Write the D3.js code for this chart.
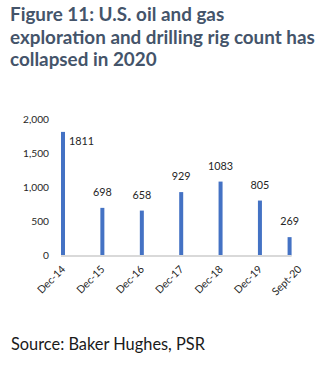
<!DOCTYPE html>
<html><head><meta charset="utf-8">
<script src="https://cdn.jsdelivr.net/npm/d3@7"></script>
<style>
html,body{margin:0;padding:0;background:#fff;}
svg{display:block;font-family:Lato,"Open Sans",sans-serif;}
</style></head>
<body>
<svg id="c" width="331" height="372"></svg>
<script>
const titleLines = ["Figure 11: U.S. oil and gas", "exploration and drilling rig count has", "collapsed in 2020"];
const sourceText = "Source: Baker Hughes, PSR";
const categories = ["Dec-14","Dec-15","Dec-16","Dec-17","Dec-18","Dec-19","Sept-20"];
const dates = [new Date(2014,11,1), new Date(2015,11,1), new Date(2016,11,1), new Date(2017,11,1), new Date(2018,11,1), new Date(2019,11,1), new Date(2020,8,1)];
const rigCount = [1811, 698, 658, 929, 1083, 805, 269];
const tickDates = [new Date(2014,11,1), new Date(2015,11,1), new Date(2016,11,1), new Date(2017,11,1), new Date(2018,11,1), new Date(2019,11,1), new Date(2020,11,1)];
const yTicks = [0, 500, 1000, 1500, 2000];

const svg = d3.select("#c");
const barW = 4;

// Title
const tg = svg.append("g");
const tSizes = [21, 43.5, 66];
titleLines.forEach((t,i)=>{
  tg.append("text").attr("x",10).attr("y",tSizes[i]).text(t)
    .attr("font-weight","bold").attr("font-size",17).attr("fill","#44546a");
});
// fit font size so line 2 width ~305
const w2 = tg.selectAll("text").nodes()[1].getComputedTextLength();
const fs = 17*305/w2;
tg.selectAll("text").attr("font-size",fs);

const x = d3.scaleTime().domain([new Date(2014,11,1), new Date(2020,11,1)]).range([61, 61+6*39.4]);
const y = d3.scaleLinear().domain([0,2000]).range([255.5,119]);

// y axis labels
const yAxis = d3.axisLeft(y).tickValues(yTicks).tickFormat(d3.format(",")).tickSize(0).tickPadding(0);
const ya = svg.append("g").attr("transform","translate(49,0)").call(yAxis);
ya.select(".domain").remove();
ya.selectAll("text").attr("font-family","Lato").attr("font-size",10.2).attr("fill","#262626");

// bars
svg.append("g").selectAll("rect").data(rigCount).join("rect")
  .attr("x",(d,i)=>x(dates[i])).attr("width",barW)
  .attr("y",d=>y(d)).attr("height",d=>y(0)-y(d))
  .attr("fill","#4472c4");

// x axis line
svg.append("line").attr("x1",x(dates[0])).attr("x2",x(dates[dates.length-1])+barW)
  .attr("y1",y(0)+0.5).attr("y2",y(0)+0.5).attr("stroke","#d9d9d9").attr("stroke-width",2);

// x tick labels
svg.append("g").selectAll("text").data(categories).join("text")
  .attr("transform",(d,i)=>`translate(${x(tickDates[i])+5},270) rotate(-45)`)
  .attr("text-anchor","end").attr("font-size",10.5).attr("fill","#262626")
  .text(d=>d);

// data labels
svg.append("g").selectAll("text").data(rigCount).join("text")
  .each(function(d,i){
    const sel = d3.select(this);
    const cx = x(dates[i]) + barW/2;
    if (y(d) - 12 < y(2000) + 10) {
      sel.attr("x", cx + 6).attr("y", y(d) + 13).attr("text-anchor","start");
    } else {
      sel.attr("x", cx).attr("y", y(d) - 12).attr("text-anchor","middle");
    }
  })
  .attr("font-size",10.8).attr("fill","#262626").text(d=>d);

// source
const src = svg.append("text").attr("x",11).attr("y",350).attr("font-size",15).attr("fill","#1a1a1a").text(sourceText);
const ws = src.node().getComputedTextLength();
src.attr("font-size",15*194/ws);
</script>
</body></html>
